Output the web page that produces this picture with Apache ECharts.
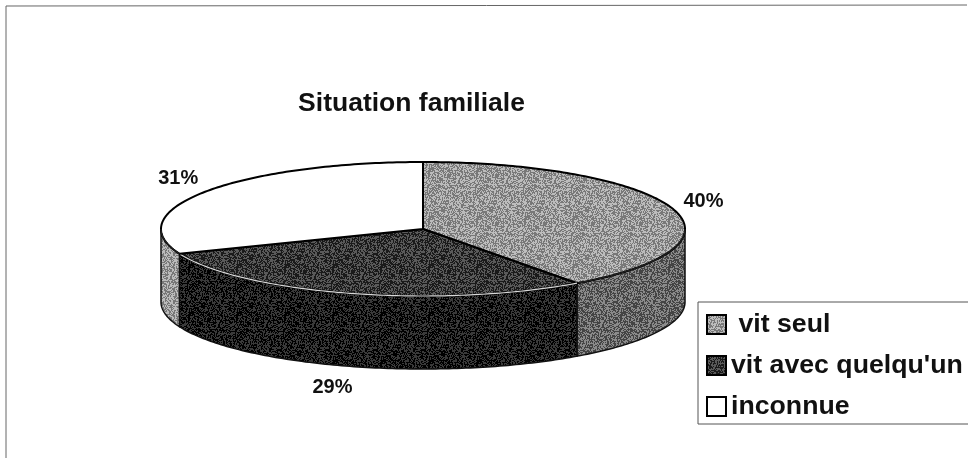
<!DOCTYPE html>
<html><head><meta charset="utf-8">
<style>html,body{margin:0;padding:0;background:#fff}#c{width:968px;height:459px}</style>
<script src="https://cdn.jsdelivr.net/npm/echarts@6/dist/echarts.min.js"></script>
</head><body><div id="c"></div>
<script>
var categories = [' vit seul', "vit avec quelqu'un", 'inconnue'];
var values = [40, 29, 31];
var title = 'Situation familiale';

// layout of the flattened disc
var CX = 423, CY = 229, RX = 262, RY = 67, DEPTH = 73;
var LABEL_RX = 296, LABEL_RY = 90;
var labelNudge = [[-1, 0], [-8, -1], [0, 0]];

// fill tones: [dark dither, light dither]
var topTones = [['#787878', '#bcbcbc'], ['#1a1a1a', '#5a5a5a'], ['#ffffff', '#ffffff']];
var sideTones = [['#444444', '#8a8a8a'], ['#000000', '#3a3a3a'], ['#777777', '#bbbbbb']];
var rimColors = ['#222222', '#d8d8d8', '#222222'];

function dither(tones) {
  var n = 48, cv = document.createElement('canvas');
  cv.width = cv.height = n;
  var g = cv.getContext('2d'), s = 12345;
  g.fillStyle = tones[0]; g.fillRect(0, 0, n, n);
  g.fillStyle = tones[1];
  for (var y = 0; y < n; y++) for (var x = 0; x < n; x++) {
    s = (s * 1103515245 + 12345) & 0x7fffffff;
    if (((s >> 16) & 1) === 1) g.fillRect(x, y, 1, 1);
  }
  return { image: cv, repeat: 'repeat' };
}

var total = values.reduce(function (a, b) { return a + b; }, 0);
var starts = []; values.reduce(function (acc, v, i) { starts[i] = acc; return acc + v; }, 0);

function pt(t, dy) { return [CX + RX * Math.sin(t), CY - RY * Math.cos(t) + (dy || 0)]; }
function arc(a, b, dy) {
  var out = [], steps = Math.max(2, Math.ceil(Math.abs(b - a) * 60));
  for (var i = 0; i <= steps; i++) out.push(pt(a + (b - a) * i / steps, dy));
  return out;
}

function makeRender(idx) {
  return function (params, api) {
    var v = api.value(0), s = api.value(1);
    var a = s / total * 2 * Math.PI, b = (s + v) / total * 2 * Math.PI;
    var kids = [];
    var fa = Math.max(a, Math.PI / 2), fb = Math.min(b, 3 * Math.PI / 2);
    if (fb > fa) {
      var upper = arc(fa, fb, 0), lower = arc(fb, fa, DEPTH);
      kids.push({ type: 'polygon', shape: { points: upper.concat(lower) },
        style: { fill: sideFill[idx], stroke: '#111', lineWidth: 1.5 } });
    }
    kids.push({ type: 'polygon', shape: { points: [[CX, CY]].concat(arc(a, b, 0)) },
      style: { fill: topFill[idx], stroke: '#000', lineWidth: 2 } });
    if (fb > fa) {
      kids.push({ type: 'polyline', shape: { points: arc(fa, fb, 0) },
        style: { fill: 'none', stroke: rimColors[idx], lineWidth: 1.2 } });
    }
    var m = (a + b) / 2, front = Math.cos(m) < 0;
    kids.push({ type: 'text',
      x: CX + LABEL_RX * Math.sin(m) + labelNudge[idx][0],
      y: CY - LABEL_RY * Math.cos(m) + (front ? DEPTH : 0) + labelNudge[idx][1],
      style: { text: v + '%', fill: '#111', align: 'center', verticalAlign: 'middle',
        font: 'bold 20px "Liberation Sans", Arial, sans-serif' } });
    return { type: 'group', children: kids };
  };
}

var topFill = topTones.map(dither), sideFill = sideTones.map(dither);

var series = categories.map(function (name, i) {
  return {
    type: 'custom', name: name, coordinateSystem: 'none',
    renderItem: makeRender(i),
    encode: {},
    itemStyle: { color: topFill[i], borderColor: '#000', borderWidth: 1.5 },
    data: [[values[i], starts[i]]],
    silent: true, animation: false
  };
});

var chart = echarts.init(document.getElementById('c'), null, { renderer: 'canvas' });
chart.setOption({
  animation: false,
  backgroundColor: '#fff',
  title: { text: title, left: 406.5, top: 85, textAlign: 'center',
    textStyle: { fontFamily: '"Liberation Sans", Arial, sans-serif', fontWeight: 'bold', fontSize: 26.5, color: '#111' } },
  legend: {
    orient: 'vertical', left: 698, top: 302,
    padding: [9, 30, 4, 8], itemWidth: 19, itemHeight: 19, itemGap: 14,
    backgroundColor: '#fff', borderColor: '#555', borderWidth: 1,
    textStyle: { fontFamily: '"Liberation Sans", Arial, sans-serif', fontWeight: 'bold', fontSize: 26.7, color: '#111' },
    data: categories.map(function (n) { return { name: n, icon: 'rect' }; })
  },
  graphic: [
    { type: 'polyline', silent: true, shape: { points: [[6, 458], [6, 6], [967, 5]] }, style: { fill: 'none', stroke: '#666', lineWidth: 1 } }
  ],
  series: series
});
</script></body></html>
